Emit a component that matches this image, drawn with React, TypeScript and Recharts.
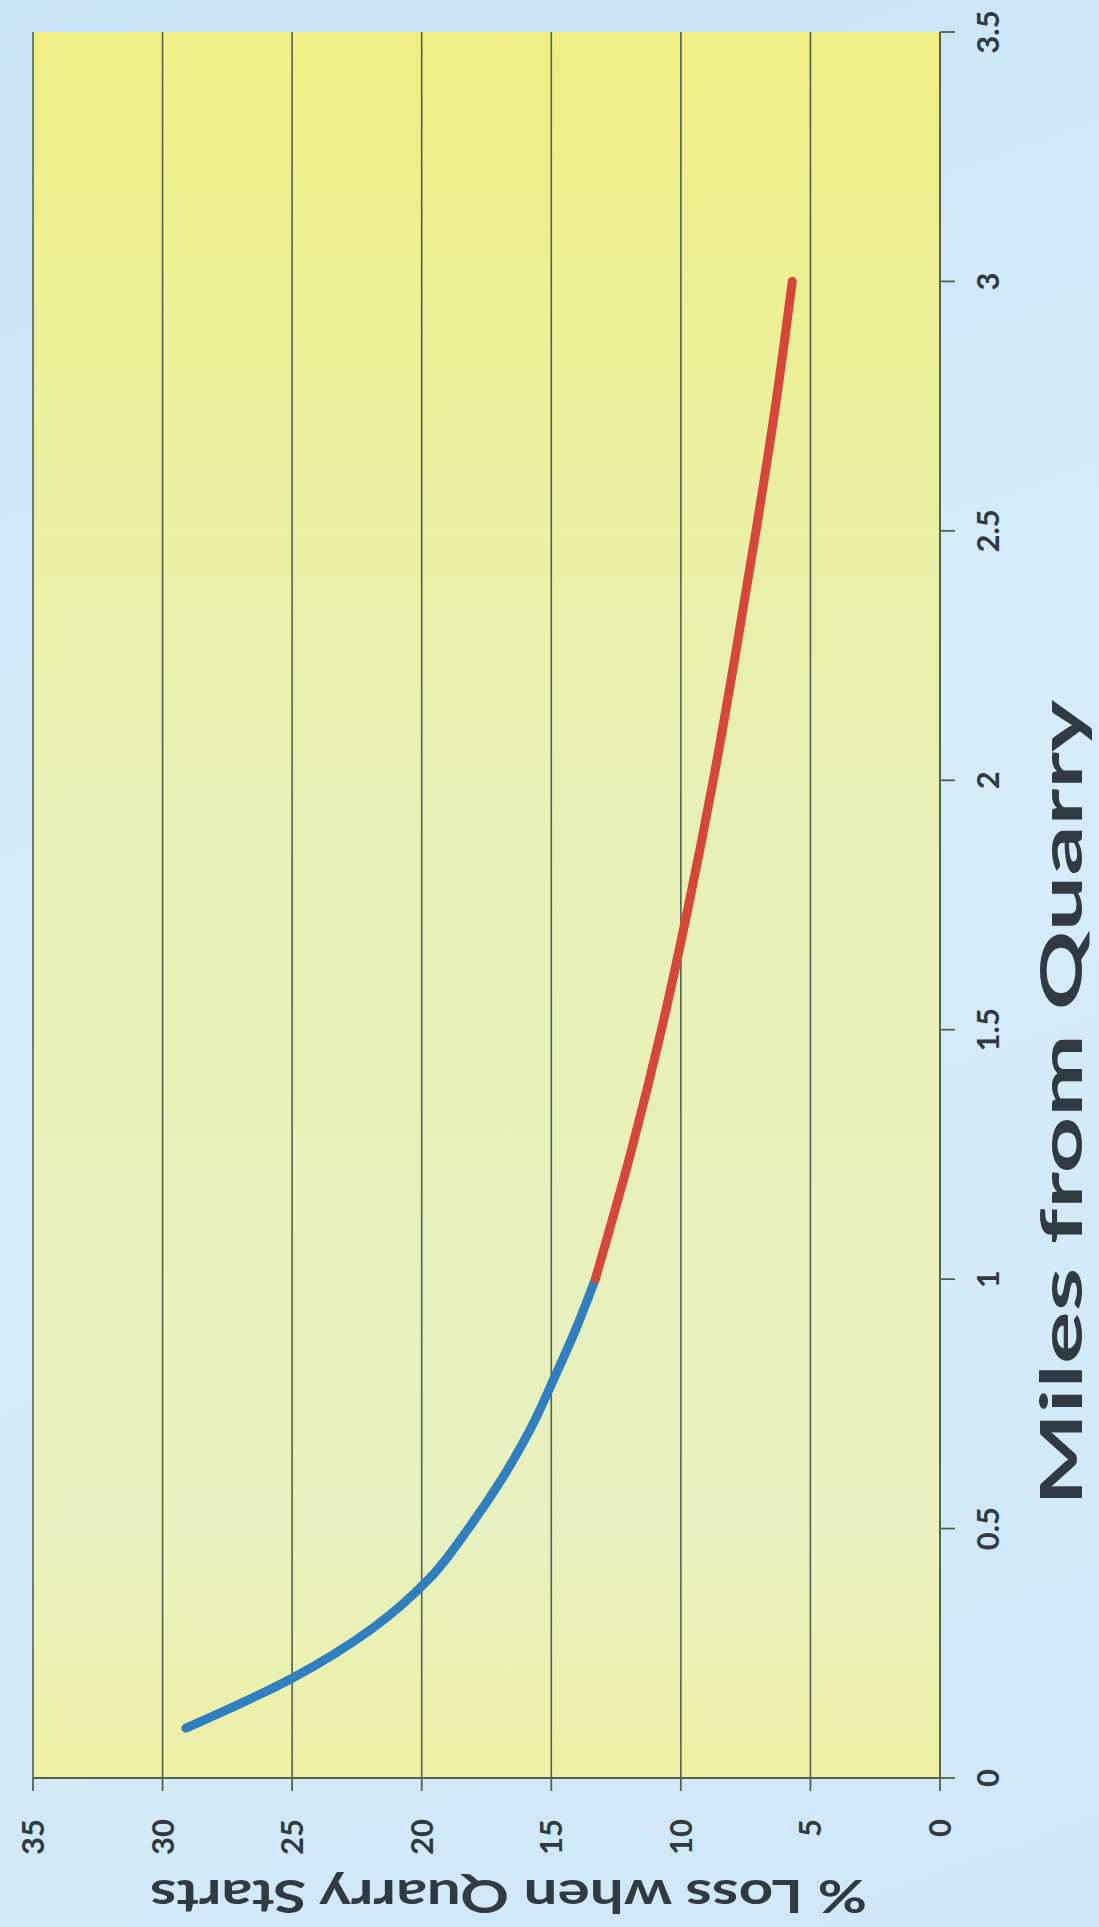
import { CartesianGrid, Line, LineChart, XAxis, YAxis } from "recharts";

// miles from quarry (x) and % loss (y)
const nearMiles = [0.1, 0.2, 0.3, 0.4, 0.5, 0.6, 0.7, 0.8, 0.9, 1.0];
const nearLoss = [29.1, 25.0, 21.9, 19.7, 18.2, 16.9, 15.8, 14.9, 14.05, 13.3];
const farMiles = [1.0, 1.25, 1.5, 1.75, 2.0, 2.25, 2.5, 2.75, 3.0];
const farLoss = [13.3, 11.95, 10.75, 9.7, 8.75, 7.9, 7.1, 6.35, 5.7];

const mileTicks = [0, 0.5, 1, 1.5, 2, 2.5, 3, 3.5];
const lossTicks = [0, 5, 10, 15, 20, 25, 30, 35];

const nearData = nearMiles.map((m, i) => ({ miles: m, loss: nearLoss[i] }));
const farData = farMiles.map((m, i) => ({ miles: m, loss: farLoss[i] }));

const ink = "#2f3a42";
const rule = "#55614d";
const font = "Lato, 'Open Sans', sans-serif";

// the scan is turned a quarter turn, so the chart is drawn upright and rotated
const W = 1927;
const H = 1099;

function MilesTitle(props: any) {
  const vb = props.viewBox;
  const len = 806;
  const x0 = vb.x + 272;
  return (
    <text
      x={x0}
      y={vb.y + 142}
      textAnchor="start"
      fill={ink}
      fontFamily={font}
      fontWeight={700}
      fontSize={58}
      textLength={len}
      lengthAdjust="spacingAndGlyphs"
    >
      Miles from Quarry
    </text>
  );
}

function LossTitle(props: any) {
  const vb = props.viewBox;
  const len = 717;
  const cx = 47;
  const cy = vb.y + vb.height / 2 + 22 + len / 2;
  return (
    <text
      x={cx}
      y={cy}
      transform={`rotate(-90, ${cx}, ${cy})`}
      textAnchor="start"
      fill={ink}
      fontFamily={font}
      fontWeight={700}
      fontSize={45}
      textLength={len}
      lengthAdjust="spacingAndGlyphs"
    >
      % Loss when Quarry Starts
    </text>
  );
}

export default function App() {
  const tickStyle = { fill: ink, fontSize: 31, fontWeight: 700, fontFamily: font };
  return (
    <div
      style={{
        position: "absolute",
        left: 0,
        top: 0,
        width: H,
        height: W,
        overflow: "hidden",
        background: "linear-gradient(160deg, #c9e4f6 0%, #d6ecf9 45%, #cfe7f7 100%)",
      }}
    >
      <div
        style={{
          position: "absolute",
          left: 0,
          top: 0,
          width: W,
          height: H,
          transformOrigin: "0 0",
          transform: `translateY(${W}px) rotate(-90deg)`,
        }}
      >
        <LineChart width={W} height={H} margin={{ top: 33, right: 32, left: 0, bottom: 0 }}>
          <defs>
            <linearGradient id="plotBg" x1="0" y1="0" x2="1" y2="0">
              <stop offset="0%" stopColor="#edf0a4" />
              <stop offset="14%" stopColor="#e8f1bf" />
              <stop offset="55%" stopColor="#e7f0b6" />
              <stop offset="80%" stopColor="#ebf09a" />
              <stop offset="100%" stopColor="#f0ee84" />
            </linearGradient>
          </defs>
          <CartesianGrid vertical={false} fill="url(#plotBg)" stroke={rule} strokeWidth={1.6} />
          <XAxis
            type="number"
            dataKey="miles"
            domain={[0, 3.5]}
            ticks={mileTicks}
            height={159}
            stroke={rule}
            strokeWidth={1.8}
            tickSize={15}
            tickMargin={22}
            tick={tickStyle}
            label={<MilesTitle />}
            allowDataOverflow
          />
          <YAxis
            type="number"
            dataKey="loss"
            domain={[0, 35]}
            ticks={lossTicks}
            width={149}
            stroke={rule}
            strokeWidth={1.8}
            tickSize={13}
            tickMargin={28}
            tick={tickStyle}
            label={<LossTitle />}
          />
          <Line
            data={nearData}
            dataKey="loss"
            type="monotone"
            stroke="#2f7fc1"
            strokeWidth={9}
            strokeLinecap="round"
            dot={false}
            isAnimationActive={false}
          />
          <Line
            data={farData}
            dataKey="loss"
            type="monotone"
            stroke="#d8463a"
            strokeWidth={9}
            strokeLinecap="round"
            dot={false}
            isAnimationActive={false}
          />
        </LineChart>
      </div>
    </div>
  );
}
